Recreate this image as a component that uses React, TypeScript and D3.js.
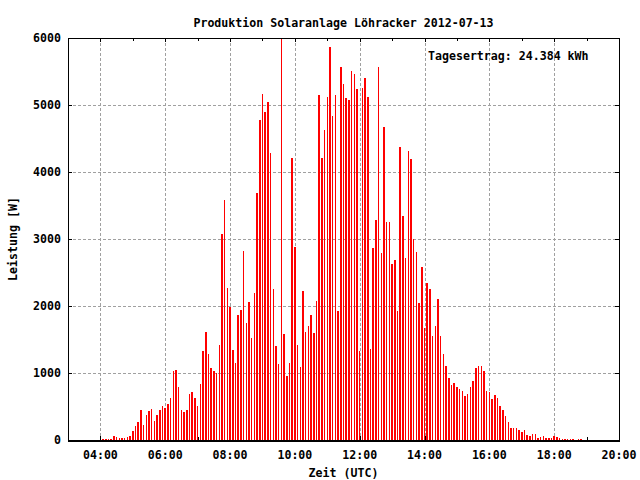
import React from "react";
import * as d3 from "d3";

const TITLE = "Produktion Solaranlage Löhracker 2012-07-13";
const X_LABEL = "Zeit (UTC)";
const Y_LABEL = "Leistung [W]";
const NOTE = "Tagesertrag: 24.384 kWh";

// sampling: one value every 5 minutes starting 04:05 UTC
const START_MINUTE = 4 * 60 + 5;
const STEP_MINUTES = 5;

const POWER_W = [
  15, 15, 15, 15, 60, 45, 30, 30, 30, 45,
  60, 135, 210, 270, 450, 225, 370, 430, 460, 285,
  370, 450, 510, 480, 540, 625, 1030, 1045, 790, 450,
  420, 450, 685, 715, 625, 510, 835, 1330, 1610, 1285,
  1075, 1030, 1000, 1420, 3075, 3580, 2270, 1985, 1345, 1150,
  1865, 1940, 2820, 1745, 2060, 1520, 2195, 3685, 4775, 5165,
  4895, 5045, 4285, 2255, 1405, 1135, 6000, 1580, 955, 1150,
  4210, 2880, 1420, 1090, 2225, 1610, 1700, 1865, 1595, 2075,
  5150, 4210, 4625, 5120, 5865, 4835, 5150, 1925, 5565, 5315,
  5105, 5075, 5505, 5460, 5240, 1330, 5255, 5405, 5120, 1360,
  2865, 3285, 5565, 2790, 4670, 3255, 3255, 2625, 2685, 1925,
  4375, 3345, 2715, 4315, 4195, 3000, 2805, 2045, 2580, 1670,
  2345, 2255, 1550, 1700, 2105, 1550, 1285, 1105, 925, 820,
  850, 790, 760, 730, 655, 685, 790, 880, 1075, 1105,
  1105, 1030, 730, 715, 610, 670, 625, 510, 450, 360,
  270, 180, 180, 180, 150, 120, 150, 75, 60, 90,
  90, 30, 45, 60, 30, 30, 30, 60, 45, 30,
  15, 15, 15, 15, 15, 0, 15, 15,
];

const X_TICK_HOURS = [3, 4, 5, 6, 7, 8, 9, 10, 11, 12, 13, 14, 15, 16, 17, 18, 19, 20];
const X_LABEL_HOURS = [4, 6, 8, 10, 12, 14, 16, 18, 20];
const Y_TICKS = [0, 1000, 2000, 3000, 4000, 5000, 6000];

const W = 640;
const H = 480;
const L = 68;
const R = 619;
const T = 38;
const B = 440;

const FONT = "'DejaVu Sans Mono', 'Liberation Mono', monospace";

export default function App() {
  const x = d3.scaleLinear().domain([3 * 60, 20 * 60]).range([L, R]);
  const y = d3.scaleLinear().domain([0, 6000]).range([B, T]);
  const fmt = (h: number) => `${String(h).padStart(2, "0")}:00`;
  const grid = "#a0a0a0";
  const txt = { fontFamily: FONT, fontSize: 11.6, fontWeight: 700, fill: "#000" } as const;

  return (
    <div style={{ position: "fixed", left: 0, top: 0, width: W, height: H, background: "#fff" }}>
      <svg width={W} height={H} style={{ display: "block" }}>
        <rect x={0} y={0} width={W} height={H} fill="#fff" />
        {/* grid */}
        <g shapeRendering="crispEdges" stroke={grid} strokeWidth={1} strokeDasharray="3,2">
          {X_LABEL_HOURS.filter((h) => h < 20).map((h) => (
            <line key={"gx" + h} x1={Math.round(x(h * 60)) + 0.5} x2={Math.round(x(h * 60)) + 0.5} y1={T} y2={B} />
          ))}
          {Y_TICKS.filter((v) => v > 0 && v < 6000).map((v) => (
            <line key={"gy" + v} x1={L} x2={R} y1={Math.round(y(v)) + 0.5} y2={Math.round(y(v)) + 0.5} />
          ))}
        </g>
        {/* ticks */}
        <g shapeRendering="crispEdges" stroke="#000" strokeWidth={1}>
          {X_TICK_HOURS.map((h) => {
            const major = h % 2 === 0;
            const len = major ? 4 : 3;
            const xx = Math.round(x(h * 60)) + 0.5;
            return (
              <g key={"xt" + h}>
                <line x1={xx} x2={xx} y1={B} y2={B - len} />
                <line x1={xx} x2={xx} y1={T} y2={T + len} />
              </g>
            );
          })}
          {Y_TICKS.map((v) => {
            const yy = Math.round(y(v)) + 0.5;
            return (
              <g key={"yt" + v}>
                <line x1={L} x2={L + 4} y1={yy} y2={yy} />
                <line x1={R} x2={R - 4} y1={yy} y2={yy} />
              </g>
            );
          })}
        </g>
        {/* impulses */}
        <g shapeRendering="crispEdges" fill="#ff0000">
          {POWER_W.map((v, i) => {
            const t = START_MINUTE + i * STEP_MINUTES;
            const xx = x(t);
            const top = y(Math.min(v, 6000));
            return <rect key={"b" + i} x={xx - 0.75} width={1.5} y={top} height={B - top} />;
          })}
        </g>
        {/* border */}
        <g shapeRendering="crispEdges" fill="none" stroke="#000">
          <rect x={L + 0.5} y={T + 0.5} width={R - L} height={B - T} strokeWidth={1} />
          <line x1={L} x2={R + 1} y1={B + 1.5} y2={B + 1.5} strokeWidth={1} />
        </g>
        {/* labels */}
        <text x={(L + R) / 2} y={27} textAnchor="middle" {...txt}>{TITLE}</text>
        <text x={428} y={60} {...txt}>{NOTE}</text>
        {Y_TICKS.map((v) => (
          <text key={"yl" + v} x={61} y={y(v) + 4} textAnchor="end" {...txt}>{v}</text>
        ))}
        {X_LABEL_HOURS.map((h) => (
          <text key={"xl" + h} x={x(h * 60)} y={459} textAnchor="middle" {...txt}>{fmt(h)}</text>
        ))}
        <text x={(L + R) / 2} y={477} textAnchor="middle" {...txt}>{X_LABEL}</text>
        <text transform={`translate(17,${(T + B) / 2}) rotate(-90)`} textAnchor="middle" {...txt}>{Y_LABEL}</text>
      </svg>
    </div>
  );
}
